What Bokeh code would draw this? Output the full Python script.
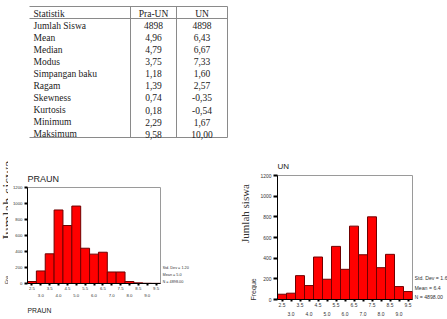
from bokeh.plotting import figure
from bokeh.models import (Range1d, FixedTicker, LinearAxis, Title, Plot,
                          ColumnDataSource, PrintfTickFormatter)
from bokeh.layouts import column, row
from bokeh.embed import file_html
from bokeh.resources import INLINE
from bokeh.core.properties import value
import math

# ---------------- data ----------------
table_header = ["Statistik", "Pra-UN", "UN"]
stat_names = ["Jumlah Siswa", "Mean", "Median", "Modus", "Simpangan baku",
              "Ragam", "Skewness", "Kurtosis", "Minimum", "Maksimum"]
praun_stats = ["4898", "4,96", "4,79", "3,75", "1,18", "1,39", "0,74", "0,18", "2,29", "9,58"]
un_stats = ["4898", "6,43", "6,67", "7,33", "1,60", "2,57", "-0,35", "-0,54", "1,67", "10,00"]

bin_centers = [2.5, 3.0, 3.5, 4.0, 4.5, 5.0, 5.5, 6.0, 6.5, 7.0, 7.5, 8.0, 8.5, 9.0, 9.5]
bin_width = 0.5
praun_counts = [25, 157, 371, 919, 725, 968, 441, 367, 391, 144, 144, 25, 8, 3, 2]
un_counts = [51, 61, 231, 135, 411, 196, 514, 292, 710, 433, 800, 308, 437, 125, 77]

x_ticks_upper = [2.5, 3.5, 4.5, 5.5, 6.5, 7.5, 8.5, 9.5]
x_ticks_lower = [3.0, 4.0, 5.0, 6.0, 7.0, 8.0, 9.0]
y_ticks = [0, 200, 400, 600, 800, 1000, 1200]

praun_title = "PRAUN"
un_title = "UN"
praun_summary = ["Std. Dev = 1.20", "Mean = 5.0", "N = 4898.00"]
un_summary = ["Std. Dev = 1.60", "Mean = 6.4", "N = 4898.00"]
overlay_label = "Jumlah siswa"
praun_freq_label = "Fre"
un_freq_label = "Freque"

SERIF = "Liberation Serif"
SANS = "Liberation Sans"
PAGE_H = 319
HAS_FRAME_ALIGN = "frame_align" in Plot.properties()


def no_align(f):
    if HAS_FRAME_ALIGN:
        f.frame_align = False
    return f


# ---------------- table ----------------
TW, TH = 447, 150
tp = figure(width=TW, height=TH, x_range=Range1d(0, TW), y_range=Range1d(TH, 0),
            output_backend="svg", toolbar_location=None, min_border=0,
            x_axis_type=None, y_axis_type=None, outline_line_color=None)
tp.grid.visible = False
no_align(tp)

t_left, t_c1, t_c2, t_right = 29, 130, 176, 227
t_top, t_head, t_bottom = 6, 18, 137
head_y, row0_y, pitch = 13.3, 25.3, 12.03

tp.segment(x0=[t_left] * 3, y0=[t_top, t_head, t_bottom],
           x1=[t_right] * 3, y1=[t_top, t_head, t_bottom],
           line_color="#8a8a8a", line_width=1)
tp.segment(x0=[t_c1, t_c2, t_right], y0=[t_top] * 3,
           x1=[t_c1, t_c2, t_right], y1=[t_bottom] * 3,
           line_color="#8a8a8a", line_width=1)

row_y = [row0_y + i * pitch for i in range(len(stat_names))]
fs = "9.5px"
common = dict(text_font=value(SERIF), text_font_size=fs, text_baseline="middle",
              text_color="#222")
tp.text(x=[33], y=[head_y], text=[table_header[0]], text_align="left", **common)
tp.text(x=[(t_c1 + t_c2) / 2, (t_c2 + t_right) / 2], y=[head_y, head_y],
        text=table_header[1:], text_align="center", **common)
tp.text(x=[33] * len(stat_names), y=row_y, text=stat_names, text_align="left", **common)
tp.text(x=[(t_c1 + t_c2) / 2] * len(praun_stats), y=row_y, text=praun_stats,
        text_align="center", **common)
tp.text(x=[(t_c2 + t_right) / 2] * len(un_stats), y=row_y, text=un_stats,
        text_align="center", **common)


# ---------------- helpers ----------------
def text_fig(x0, x1, y0=150, y1=PAGE_H):
    """Plain canvas whose data coordinates are page pixels (y measured upwards)."""
    f = figure(width=x1 - x0, height=y1 - y0, x_range=Range1d(x0, x1),
               y_range=Range1d(PAGE_H - y1, PAGE_H - y0), output_backend="svg",
               toolbar_location=None, min_border=0, x_axis_type=None,
               y_axis_type=None, outline_line_color=None)
    f.grid.visible = False
    return no_align(f)


def make_hist(W, H, fl, ft, fw, fh, counts, tick_fs, tick_out, std1, std2,
              title, title_fs, title_standoff):
    x0, x1 = bin_centers[0] - bin_width / 2, bin_centers[-1] + bin_width / 2
    p = figure(width=W, height=H, x_range=Range1d(x0, x1),
               y_range=Range1d(y_ticks[0], y_ticks[-1]), output_backend="svg",
               toolbar_location=None, x_axis_type=None, y_axis_type=None,
               min_border_left=fl, min_border_top=ft,
               min_border_right=W - fl - fw, min_border_bottom=H - ft - fh,
               title=title)
    no_align(p)
    p.title.align = "left"
    p.title.text_font = SANS
    p.title.text_font_style = "normal"
    p.title.text_font_size = title_fs
    p.title.text_color = "#222"
    p.title.standoff = title_standoff
    p.outline_line_color = "#9a9a9a"
    p.outline_line_width = 1
    p.grid.visible = False
    src = ColumnDataSource(dict(x=bin_centers, top=counts))
    p.vbar(x="x", top="top", bottom=0, width=bin_width, source=src,
           fill_color="#ff0000", line_color="#700000", line_width=1)

    yax = LinearAxis(ticker=FixedTicker(ticks=y_ticks, minor_ticks=[]),
                     major_label_text_font_size=tick_fs, major_label_text_font=SANS,
                     major_label_text_color="#333", major_tick_in=0,
                     major_tick_out=tick_out, minor_tick_in=0, minor_tick_out=0,
                     axis_line_color="black", major_tick_line_color="black",
                     major_tick_line_width=2, major_label_standoff=2)
    p.add_layout(yax, "left")
    fmt = PrintfTickFormatter(format="%.1f")
    xax1 = LinearAxis(ticker=FixedTicker(ticks=x_ticks_upper, minor_ticks=x_ticks_lower),
                      formatter=fmt, major_label_text_font_size=tick_fs,
                      major_label_text_font=SANS, major_label_text_color="#333",
                      major_tick_in=0, major_tick_out=2, minor_tick_in=0,
                      minor_tick_out=2, axis_line_color="black",
                      major_tick_line_color="black", minor_tick_line_color="black",
                      major_tick_line_width=2, minor_tick_line_width=2,
                      major_label_standoff=std1)
    xax2 = LinearAxis(ticker=FixedTicker(ticks=x_ticks_lower, minor_ticks=[]),
                      formatter=fmt, major_label_text_font_size=tick_fs,
                      major_label_text_font=SANS, major_label_text_color="#333",
                      major_tick_in=0, major_tick_out=0, minor_tick_in=0,
                      minor_tick_out=0, axis_line_color=None,
                      major_tick_line_color=None, minor_tick_line_color=None,
                      major_label_standoff=std2)
    p.add_layout(xax1, "below")
    p.add_layout(xax2, "below")
    return p


# ---------------- left group (page x 0..220) ----------------
fa = text_fig(0, 8)
fa.text(x=[7], y=[PAGE_H - 200], text=[overlay_label], angle=math.pi / 2,
        text_align="center", text_baseline="alphabetic", text_font=value(SERIF),
        text_font_size="15px", text_color="#333")
fa.text(x=[6.7], y=[PAGE_H - 283.5], text=[praun_freq_label], angle=math.pi / 2,
        text_align="left", text_baseline="alphabetic", text_font=value(SANS),
        text_font_size="5.5px", text_color="#333")

pl = make_hist(154, 169, 19, 37, 133, 96, praun_counts, "4.3px", 3, 1, 1,
               praun_title, "9px", 8)
pl.add_layout(Title(text=praun_title, align="left", text_font=SANS,
                    text_font_style="normal", text_font_size="6.8px",
                    text_color="#222", standoff=10), "below")

fc = text_fig(162, 220)
fc.text(x=[162] * 3, y=[PAGE_H - v for v in (267, 274, 281)], text=praun_summary,
        text_align="left", text_baseline="middle", text_font=value(SANS),
        text_font_size="3.8px", text_color="#333")

# ---------------- right group (page x 220..447) ----------------
fd = text_fig(220, 257)
fd.text(x=[244.5], y=[PAGE_H - 213], text=[overlay_label], angle=math.pi / 2,
        text_align="center", text_baseline="alphabetic", text_font=value(SERIF),
        text_font_size="11px", text_color="#333")
fd.text(x=[253], y=[PAGE_H - 300], text=[un_freq_label], angle=math.pi / 2,
        text_align="left", text_baseline="alphabetic", text_font=value(SANS),
        text_font_size="7px", text_color="#333")

pr = make_hist(157, 169, 20, 25, 135, 124, un_counts, "4.9px", 4, 1, 2,
               un_title, "8px", 10)

ff = text_fig(414, 447)
ff.text(x=[414] * 3, y=[PAGE_H - v for v in (277, 287, 296)], text=un_summary,
        text_align="left", text_baseline="middle", text_font=value(SANS),
        text_font_size="5.2px", text_color="#333")

bottom = row(fa, pl, fc, fd, pr, ff, spacing=0)
layout = column(tp, bottom, spacing=0)
open("out.html", "w").write(file_html(layout, INLINE))
